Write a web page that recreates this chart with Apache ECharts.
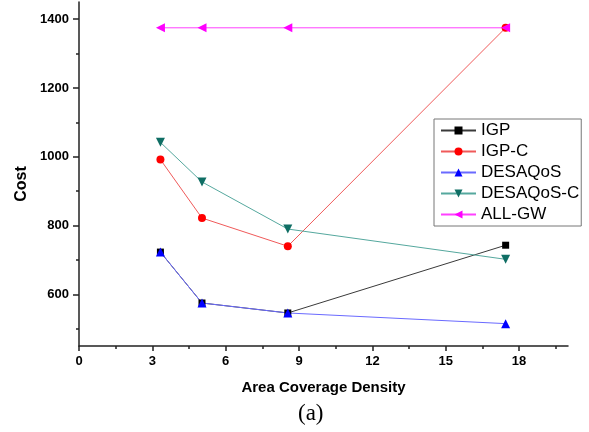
<!DOCTYPE html>
<html>
<head>
<meta charset="utf-8">
<script src="https://cdn.jsdelivr.net/npm/echarts@6/dist/echarts.min.js"></script>
<style>
  html, body { margin: 0; padding: 0; background: #fff; }
  #chart { width: 589px; height: 432px; }
</style>
</head>
<body>
<div id="chart"></div>
<script>
// Area coverage density (x) and cost of each scheme (y)
const density = [3.33, 5.03, 8.54, 17.45];
const igp = [723, 575, 546, 743];
const igpC = [992, 822, 740, 1375];
const desaqos = [723, 575, 546, 515];
const desaqosC = [1042, 927, 790, 702];
const allGw = [1375, 1375, 1375, 1375];

// Axis ticks
const xMajor = [0, 3, 6, 9, 12, 15, 18];
const xMinor = [1.5, 4.5, 7.5, 10.5, 13.5, 16.5, 19.5];
const yMajor = [600, 800, 1000, 1200, 1400];
const yMinor = [500, 700, 900, 1100, 1300];

const FONT = "'Liberation Sans', Arial, sans-serif";
const AXIS_COLOR = '#222';

function pairs(ys) {
  return density.map((x, i) => [x, ys[i]]);
}

function series(name, ys, lineColor, markColor, symbol, size, rotate) {
  return {
    name: name,
    type: 'line',
    data: pairs(ys),
    xAxisIndex: 0,
    yAxisIndex: 0,
    symbol: symbol,
    symbolSize: size,
    symbolRotate: rotate || 0,
    showAllSymbol: true,
    lineStyle: { color: lineColor, width: 1 },
    itemStyle: { color: markColor, borderWidth: 0 },
    emphasis: { disabled: true },
    animation: false
  };
}

const plain = (v) => String(v);

const chart = echarts.init(document.getElementById('chart'), null, { renderer: 'canvas' });

chart.setOption({
  backgroundColor: '#fff',
  animation: false,
  grid: { left: 79, right: 21, top: 2, bottom: 86 },
  legend: {
    orient: 'vertical',
    left: 434,
    top: 119,
    padding: [3, 2, 3, 6],
    itemGap: 4,
    itemWidth: 35,
    itemHeight: 10,
    borderColor: '#777',
    borderWidth: 1,
    backgroundColor: '#fff',
    selectedMode: false,
    textStyle: { fontFamily: FONT, fontSize: 17, color: '#000', lineHeight: 17, padding: [0, 0, 0, 0] },
    data: ['IGP', 'IGP-C', 'DESAQoS', 'DESAQoS-C', 'ALL-GW']
  },
  xAxis: [
    {
      type: 'value',
      min: 0,
      max: 20,
      position: 'bottom',
      name: 'Area Coverage Density',
      nameLocation: 'middle',
      nameGap: 34,
      nameTextStyle: { fontFamily: FONT, fontSize: 15, fontWeight: 'bold', color: '#000' },
      axisLine: { show: true, lineStyle: { color: AXIS_COLOR, width: 1.5 } },
      axisTick: { show: true, inside: false, length: 5, customValues: xMajor, lineStyle: { color: AXIS_COLOR, width: 1.5 } },
      axisLabel: { show: true, margin: 9, customValues: xMajor, formatter: plain, fontFamily: FONT, fontSize: 13, fontWeight: 'bold', color: '#000' },
      splitLine: { show: false }
    },
    {
      type: 'value',
      min: 0,
      max: 20,
      position: 'bottom',
      axisLine: { show: false },
      axisTick: { show: true, inside: false, length: 3, customValues: xMinor, lineStyle: { color: AXIS_COLOR, width: 1.5 } },
      axisLabel: { show: false },
      splitLine: { show: false }
    }
  ],
  yAxis: [
    {
      type: 'value',
      min: 450,
      max: 1450,
      position: 'left',
      name: 'Cost',
      nameLocation: 'middle',
      nameGap: 43,
      nameRotate: 90,
      nameTextStyle: { fontFamily: FONT, fontSize: 16, fontWeight: 'bold', color: '#000', padding: [0, 20, 0, 0] },
      axisLine: { show: true, lineStyle: { color: AXIS_COLOR, width: 1.5 } },
      axisTick: { show: true, inside: false, length: 6, customValues: yMajor, lineStyle: { color: AXIS_COLOR, width: 1.5 } },
      axisLabel: { show: true, margin: 10, customValues: yMajor, formatter: plain, fontFamily: FONT, fontSize: 13, fontWeight: 'bold', color: '#000' },
      splitLine: { show: false }
    },
    {
      type: 'value',
      min: 450,
      max: 1450,
      position: 'left',
      axisLine: { show: false },
      axisTick: { show: true, inside: false, length: 3, customValues: yMinor, lineStyle: { color: AXIS_COLOR, width: 1.5 } },
      axisLabel: { show: false },
      splitLine: { show: false }
    }
  ],
  series: [
    series('IGP', igp, '#3a3a3a', '#000000', 'rect', 7),
    series('IGP-C', igpC, '#f05a5a', '#ff0000', 'circle', 8),
    series('DESAQoS', desaqos, '#6a6aff', '#0000ff', 'triangle', 9),
    series('DESAQoS-C', desaqosC, '#55a89e', '#0f6e64', 'triangle', 9, 180),
    series('ALL-GW', allGw, '#ff40ff', '#ff00ff', 'triangle', 9, 90)
  ],
  graphic: [
    {
      type: 'text',
      left: 298,
      top: 402,
      style: {
        text: '(a)',
        fontFamily: "'Liberation Serif', 'Times New Roman', serif",
        fontSize: 23,
        fill: '#000'
      }
    }
  ]
});
</script>
</body>
</html>
